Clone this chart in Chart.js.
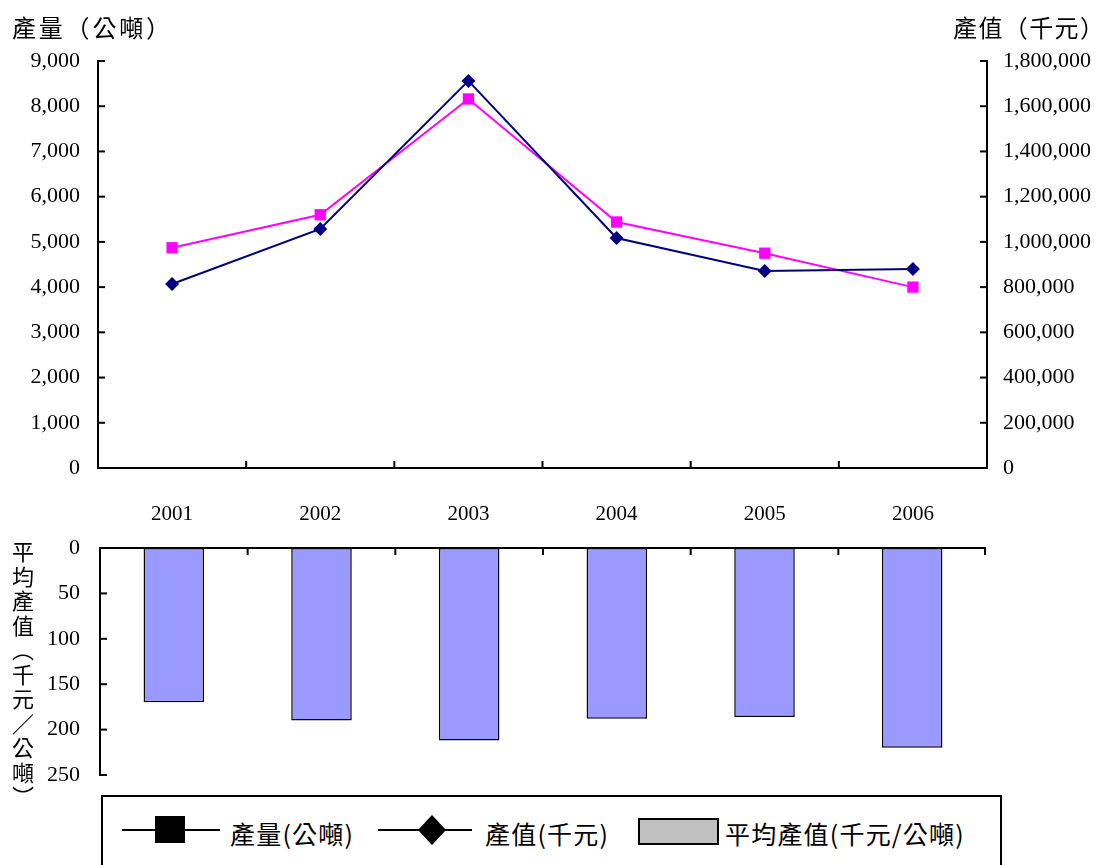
<!DOCTYPE html>
<html>
<head>
<meta charset="utf-8">
<title>產量與產值</title>
<script src="https://cdn.jsdelivr.net/npm/chart.js@4.4.1/dist/chart.umd.min.js"></script>
<style>
  html, body { margin: 0; padding: 0; background: #fff; }
  #wrap { position: relative; width: 1102px; height: 865px; overflow: hidden; background: #fff; }
  canvas { position: absolute; left: 0; }
  #topChart { top: 0; }
  #barChart { top: 530px; }
  .cjk { position: absolute; font-family: 'Noto Sans CJK TC', 'Noto Sans CJK SC', sans-serif; color: #000; white-space: nowrap; }
  .title { font-size: 24px; line-height: 24px; }
  .vtitle { writing-mode: vertical-rl; font-size: 22px; line-height: 22px; letter-spacing: 2.5px; }
  .legtext { font-size: 25px; line-height: 26px; letter-spacing: 1.2px; }
  #legendBox { position: absolute; left: 101px; top: 795px; width: 897px; height: 100px; border: 2px solid #000; }
  .blk { position: absolute; background: #000; }
</style>
</head>
<body>
<div id="wrap">
  <canvas id="topChart" width="1102" height="540"></canvas>
  <canvas id="barChart" width="1102" height="262"></canvas>

  <div class="cjk title" style="left:12px; top:15px; letter-spacing:2.8px;">產量（公噸）</div>
  <div class="cjk title" style="left:953px; top:15px; letter-spacing:1.4px;">產值（千元）</div>
  <div class="cjk vtitle" style="left:12px; top:541px;">平均產值（千元／公噸）</div>

  <div id="legendBox"></div>
  <div class="blk" style="left:122px; top:829px; width:98px; height:2px;"></div>
  <div class="blk" style="left:155px; top:816px; width:30px; height:27px;"></div>
  <div class="cjk legtext" style="left:230px; top:820px;">產量(公噸)</div>
  <div class="blk" style="left:378px; top:829px; width:94px; height:2px;"></div>
  <svg style="position:absolute; left:418px; top:815px;" width="28" height="30">
    <polygon points="14,0 28,15 14,30 0,15" fill="#000"/>
  </svg>
  <div class="cjk legtext" style="left:485px; top:820px;">產值(千元)</div>
  <div style="position:absolute; left:638px; top:818px; width:77px; height:23px; background:#c0c0c0; border:2px solid #000;"></div>
  <div class="cjk legtext" style="left:725px; top:820px;">平均產值(千元/公噸)</div>
</div>

<script>
// Years on the category axis
const years = ['2001', '2002', '2003', '2004', '2005', '2006'];
// 產量 (公噸) — left axis
const outputTons = [4870, 5600, 8160, 5440, 4750, 4000];
// 產值 (千元) — right axis
const outputValue = [814000, 1057000, 1712000, 1017000, 871000, 880000];
// 平均產值 (千元/公噸) — lower bar panel
const avgValue = [170, 190, 212, 188, 186, 220];

// Axis ranges
const tonsMax = 9000, tonsStep = 1000;
const valueMax = 1800000, valueStep = 200000;
const avgMax = 250, avgStep = 50;

const serif = "'Liberation Serif', 'Times New Roman', serif";
const tickFont = { family: serif, size: 22 };
const yearFont = { family: serif, size: 21 };
const fmt = v => Number(v).toLocaleString('en-US');

Chart.defaults.color = '#000';
Chart.defaults.animation = false;

// Draws axis lines and inward tick marks using the chart's scales
const framePlugin = {
  id: 'frame',
  afterDraw(chart, args, opts) {
    const ctx = chart.ctx;
    const a = chart.chartArea;
    const L = 7;
    ctx.save();
    ctx.strokeStyle = '#000';
    ctx.lineWidth = 2;
    const seg = (x1, y1, x2, y2) => { ctx.beginPath(); ctx.moveTo(x1, y1); ctx.lineTo(x2, y2); ctx.stroke(); };

    const xs = chart.scales.x;
    const n = years.length;
    const bounds = [];
    for (let i = 1; i < n; i++) {
      bounds.push((xs.getPixelForValue(i - 1) + xs.getPixelForValue(i)) / 2);
    }

    if (opts.kind === 'lines') {
      const yl = chart.scales.y, yr = chart.scales.y1;
      seg(a.left, a.top - 1, a.left, a.bottom + 1);
      seg(a.right, a.top - 1, a.right, a.bottom + 1);
      seg(a.left, a.bottom, a.right, a.bottom);
      yl.ticks.forEach(t => { const y = yl.getPixelForValue(t.value); seg(a.left, y, a.left + L, y); });
      yr.ticks.forEach(t => { const y = yr.getPixelForValue(t.value); seg(a.right - L, y, a.right, y); });
      bounds.forEach(x => seg(x, a.bottom, x, a.bottom - L));
    } else {
      const ys = chart.scales.y;
      seg(a.left, a.top - 1, a.left, a.bottom + 1);
      seg(a.left, a.top, a.right, a.top);
      ys.ticks.forEach(t => { const y = ys.getPixelForValue(t.value); seg(a.left, y, a.left + L, y); });
      bounds.concat([a.right - 1]).forEach(x => seg(x, a.top, x, a.top + L));
    }
    ctx.restore();
  }
};

const noGrid = { display: false, drawTicks: false };

new Chart(document.getElementById('topChart'), {
  type: 'line',
  data: {
    labels: years,
    datasets: [
      {
        label: '產值(千元)',
        data: outputValue,
        yAxisID: 'y1',
        borderColor: '#000080',
        backgroundColor: '#000080',
        borderWidth: 2,
        pointStyle: 'rectRot',
        pointRadius: 7,
        pointBorderWidth: 0,
        tension: 0,
        order: 1
      },
      {
        label: '產量(公噸)',
        data: outputTons,
        yAxisID: 'y',
        borderColor: '#ff00ff',
        backgroundColor: '#ff00ff',
        borderWidth: 2,
        pointStyle: 'rect',
        pointRadius: 8,
        pointBorderWidth: 0,
        tension: 0,
        order: 2
      }
    ]
  },
  options: {
    responsive: false,
    devicePixelRatio: 1,
    events: [],
    layout: { padding: { top: 61, left: 0, right: 0, bottom: 0 } },
    plugins: { legend: { display: false }, tooltip: { enabled: false }, frame: { kind: 'lines' } },
    scales: {
      x: {
        offset: true,
        grid: noGrid,
        border: { display: false },
        ticks: { font: yearFont, color: '#000', padding: 34, maxRotation: 0, autoSkip: false },
        afterFit: s => { s.height = 72; }
      },
      y: {
        position: 'left',
        min: 0, max: tonsMax,
        grid: noGrid,
        border: { display: false },
        ticks: { stepSize: tonsStep, font: tickFont, color: '#000', padding: 18, callback: fmt },
        afterFit: s => { s.width = 98; }
      },
      y1: {
        position: 'right',
        min: 0, max: valueMax,
        grid: noGrid,
        border: { display: false },
        ticks: { stepSize: valueStep, font: tickFont, color: '#000', padding: 16, callback: fmt },
        afterFit: s => { s.width = 115; }
      }
    }
  },
  plugins: [framePlugin]
});

new Chart(document.getElementById('barChart'), {
  type: 'bar',
  data: {
    labels: years,
    datasets: [{
      label: '平均產值(千元/公噸)',
      data: avgValue,
      backgroundColor: '#9999ff',
      borderColor: '#000',
      borderWidth: 1.5,
      borderSkipped: false,
      categoryPercentage: 1.0,
      barPercentage: 0.41
    }]
  },
  options: {
    responsive: false,
    devicePixelRatio: 1,
    events: [],
    layout: { padding: { top: 18, left: 0, right: 116, bottom: 17 } },
    plugins: { legend: { display: false }, tooltip: { enabled: false }, frame: { kind: 'bars' } },
    scales: {
      x: { display: false, offset: true },
      y: {
        reverse: true,
        min: 0, max: avgMax,
        grid: noGrid,
        border: { display: false },
        ticks: { stepSize: avgStep, font: tickFont, color: '#000', padding: 20 },
        afterFit: s => { s.width = 100; s.paddingTop = 0; s.paddingBottom = 0; }
      }
    }
  },
  plugins: [framePlugin]
});
</script>
</body>
</html>
